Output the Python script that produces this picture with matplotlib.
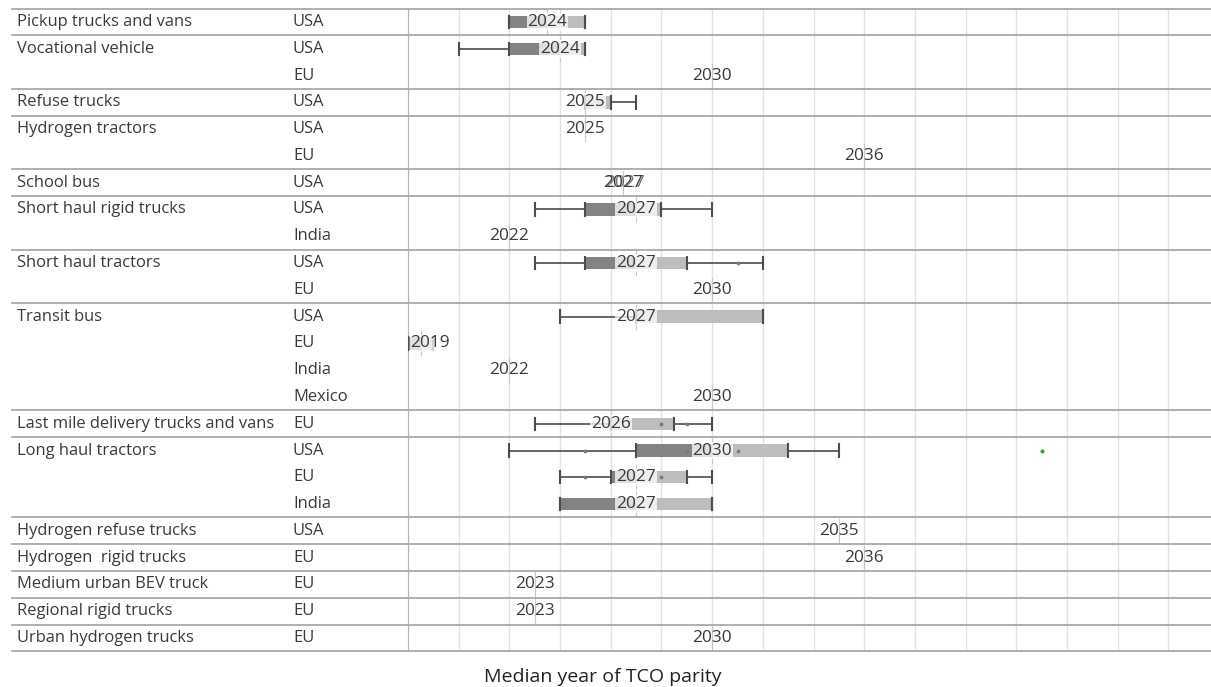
import numpy as np
import matplotlib.pyplot as plt
from matplotlib.transforms import blended_transform_factory

plt.rcParams['font.family'] = ['Open Sans', 'DejaVu Sans']

nan = np.nan

categories = ["Pickup trucks and vans", "Vocational vehicle", "", "Refuse trucks",
              "Hydrogen tractors", "", "School bus", "Short haul rigid trucks", "",
              "Short haul tractors", "", "Transit bus", "", "", "",
              "Last mile delivery trucks and vans", "Long haul tractors", "", "",
              "Hydrogen refuse trucks", "Hydrogen  rigid trucks", "Medium urban BEV truck",
              "Regional rigid trucks", "Urban hydrogen trucks"]
regions = ["USA", "USA", "EU", "USA", "USA", "EU", "USA", "USA", "India", "USA", "EU",
           "USA", "EU", "India", "Mexico", "EU", "USA", "EU", "India", "USA", "EU", "EU",
           "EU", "EU"]

# box plot stats per row (nan = single value only)
medians = [2023.5, 2024, 2030, 2025, 2025, 2036, 2026.5, 2027, 2022, 2027, 2030, 2027,
           2018.5, 2022, 2030, 2026, 2030, 2027, 2027, 2035, 2036, 2023, 2023, 2030]
mins = [2022, 2020, nan, 2025, nan, nan, nan, 2023, nan, 2023, nan, 2024,
        2018, nan, nan, 2023, 2022, 2024, 2024, nan, nan, nan, nan, nan]
q1s = [2022, 2022, nan, 2025, nan, nan, nan, 2025, nan, 2025, nan, 2027,
       2018, nan, nan, 2026, 2027, 2026, 2024, nan, nan, nan, nan, nan]
q3s = [2025, 2025, nan, 2026, nan, nan, nan, 2028, nan, 2029, nan, 2032,
       2019, nan, nan, 2028.5, 2033, 2029, 2030, nan, nan, nan, nan, nan]
maxs = [2025, 2025, nan, 2027, nan, nan, nan, 2030, nan, 2032, nan, 2032,
        2019, nan, nan, 2030, 2035, 2030, 2030, nan, nan, nan, nan, nan]

# individual points on whiskers and outliers
point_rows = [9, 15, 15, 16, 16, 16, 17, 17]
point_years = [2031, 2028, 2029, 2025, 2029, 2031, 2025, 2028]
outlier_rows = [16]
outlier_years = [2043]

echo_rows = [6]  # label drawn twice (overlapping marks)
group_starts = [0, 1, 3, 4, 6, 7, 9, 11, 15, 16, 19, 20, 21, 22, 23, 24]

DARK = '#838383'
LIGHT = '#bdbdbd'
LINE = '#4d4d4d'
TEXT = '#3a3a3a'

W, H = 1211, 687
fig = plt.figure(figsize=(W / 100, H / 100), dpi=100)
ax_l, ax_r, ax_t, ax_b = 408, 1211, 8.6, 651.4
ax = fig.add_axes([ax_l / W, 1 - ax_b / H, (ax_r - ax_l) / W, (ax_b - ax_t) / H])

n = len(categories)
x0 = 2018
ax.set_xlim(x0, x0 + (ax_r - ax_l) / 25.35)
ax.set_ylim(n - 0.5, -0.5)
ax.set_xticks(np.arange(2018, 2050, 2))
ax.set_yticks([])
ax.tick_params(axis='x', length=0, labelbottom=False)
ax.grid(axis='x', color='#e2e2e2', lw=1)
ax.set_axisbelow(True)
for s in ['top', 'right', 'bottom']:
    ax.spines[s].set_visible(False)
ax.spines['left'].set_color('#b5b5b5')

bh = 0.46
for i in range(n):
    med = medians[i]
    has_box = not np.isnan(q1s[i])
    # faint median reference tick
    ax.plot([med, med], [i - 0.45, i + 0.45], color='#c8c8c8', lw=0.8, zorder=1)
    if has_box:
        lo, q1, q3, hi = mins[i], q1s[i], q3s[i], maxs[i]
        ax.plot([lo, q1], [i, i], color=LINE, lw=1.2, zorder=2)
        ax.plot([q3, hi], [i, i], color=LINE, lw=1.2, zorder=2)
        ax.barh(i, med - q1, left=q1, height=bh, color=DARK, zorder=3)
        ax.barh(i, q3 - med, left=med, height=bh, color=LIGHT, zorder=3)
        for xv in [lo, q1, q3, hi]:
            ax.plot([xv, xv], [i - bh / 2, i + bh / 2], color=LINE, lw=1.5, zorder=4)
    label = str(int(np.floor(med + 0.5)))
    ha, xl = 'center', med
    if med - 0.8 < ax.get_xlim()[0]:
        ha, xl = 'left', ax.get_xlim()[0] + 0.1
    bbox = dict(boxstyle='square,pad=0.05', fc='white', ec='none', alpha=0.75) if has_box else None
    ax.text(xl, i, label, ha=ha, va='center', fontsize=12.4, color=TEXT, zorder=5, bbox=bbox)
    if i in echo_rows:
        ax.text(xl + 0.07, i, label, ha=ha, va='center', fontsize=12.4, color=TEXT,
                zorder=5, alpha=0.7)

ax.scatter(point_years, point_rows, s=3, color='#7a7a7a', zorder=4)
ax.scatter(outlier_years, outlier_rows, s=4, color='#3f9f4f', zorder=4)

# table on the left
tr = blended_transform_factory(fig.transFigure, ax.transData)
for i in range(n):
    fig.text(17 / W, i, categories[i], transform=tr, ha='left', va='center',
             fontsize=11.9, color=TEXT)
    fig.text(293 / W, i, regions[i], transform=tr, ha='left', va='center',
             fontsize=11.9, color=TEXT)
for g in group_starts:
    fig.add_artist(plt.Line2D([12 / W, 1], [g - 0.5, g - 0.5], transform=tr,
                              color='#a9a9a9', lw=1.3))

fig.text(0.498, 1 - 677 / H, 'Median year of TCO parity', ha='center', va='center',
         fontsize=14, color='#222222')

fig.savefig('out.png', dpi=100)
